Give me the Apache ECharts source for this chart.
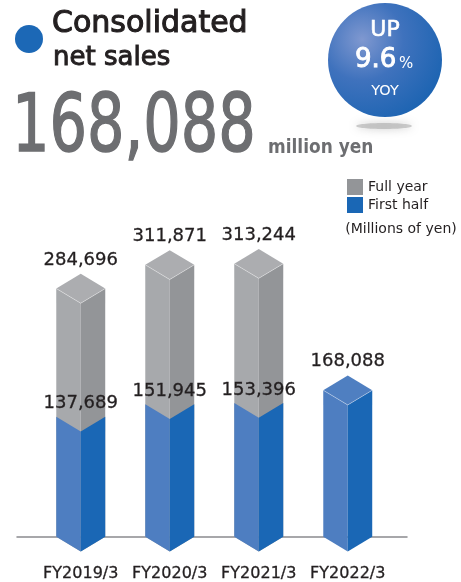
<!DOCTYPE html>
<html>
<head>
<meta charset="utf-8">
<script src="https://cdn.jsdelivr.net/npm/echarts@6/dist/echarts.min.js"></script>
<style>
html,body{margin:0;padding:0;background:#fff;}
#chart{width:461px;height:582px;}
</style>
</head>
<body>
<div id="chart"></div>
<script>
const categories = ['FY2019/3', 'FY2020/3', 'FY2021/3', 'FY2022/3'];
const fullYear = [284696, 311871, 313244, null];
const firstHalf = [137689, 151945, 153396, 168088];
const seriesNames = ['Full year', 'First half'];
const headlineValue = '168,088';
const headlineUnit = 'million yen';
const yoyText = '9.6';
const unitNote = '(Millions of yen)';

const FONT = '"DejaVu Sans", sans-serif';
const DARK = '#231f20';
const GRAY_L = '#a7a9ac', GRAY_R = '#939598', GRAY_T = '#acadb0';
const BLUE_L = '#4e7ec1', BLUE_R = '#1a67b5', BLUE_T = '#4f7fc1';

function fmt(v) { return Number(v).toLocaleString('en-US'); }

function cuboid(api, idx, v, colors, withTop) {
  const top = api.coord([idx, v]);
  const base = api.coord([idx, 0]);
  const hw = api.size([1, 0])[0] * 0.275;
  const d = hw * 0.6;
  const x = top[0], yT = top[1], yB = base[1];
  const children = [
    { type: 'polygon', shape: { points: [[x - hw, yT], [x, yT + d], [x, yB + d], [x - hw, yB]] }, style: { fill: colors[0] } },
    { type: 'polygon', shape: { points: [[x, yT + d], [x + hw, yT], [x + hw, yB], [x, yB + d]] }, style: { fill: colors[1] } }
  ];
  if (withTop) {
    children.push({ type: 'polygon', shape: { points: [[x - hw, yT], [x, yT - d], [x + hw, yT], [x, yT + d]] }, style: { fill: colors[2] } });
    children.push({ type: 'polyline', shape: { points: [[x - hw, yT], [x, yT + d], [x + hw, yT]] }, style: { stroke: 'rgba(255,255,255,0.45)', lineWidth: 0.8, fill: null } });
  }
  children.push({
    type: 'text',
    style: { text: fmt(v), x: x, y: withTop ? yT - d - 14 : yT - 13, align: 'center', verticalAlign: 'middle',
             font: '18px ' + FONT, fill: DARK, stroke: DARK, lineWidth: 0.3 }
  });
  return { type: 'group', children: children };
}

const chart = echarts.init(document.getElementById('chart'), null, { renderer: 'canvas' });
const option = {
  animation: false,
  backgroundColor: '#fff',
  grid: [
    { left: 36.25, right: 68.75, top: 188, bottom: 45 },
    { left: 17, right: 54, top: 188, bottom: 45 }
  ],
  legend: {
    data: seriesNames,
    orient: 'vertical',
    left: 347, top: 179,
    itemWidth: 16, itemHeight: 16, itemGap: 2,
    icon: 'rect',
    padding: 0,
    textStyle: { fontFamily: FONT, fontSize: 14, color: DARK }
  },
  xAxis: [
    { type: 'category', data: categories, gridIndex: 0,
      axisLine: { show: false }, axisTick: { show: false },
      axisLabel: { interval: 0, fontFamily: FONT, fontSize: 16, color: DARK, margin: 29, lineHeight: 16,
                   textBorderColor: DARK, textBorderWidth: 0.3 } },
    { type: 'value', gridIndex: 1, min: 0, max: 1,
      axisLine: { show: true, lineStyle: { color: '#8a8b8e', width: 1.5 } },
      axisTick: { show: false }, axisLabel: { show: false }, splitLine: { show: false } }
  ],
  yAxis: [
    { type: 'value', min: 0, max: 400000, show: false, gridIndex: 0 },
    { type: 'value', min: 0, max: 1, show: false, gridIndex: 1 }
  ],
  series: [
    { name: seriesNames[0], type: 'custom', xAxisIndex: 0, yAxisIndex: 0,
      itemStyle: { color: GRAY_R },
      data: fullYear.map((v, i) => [i, v == null ? '-' : v]),
      renderItem: function (params, api) {
        const v = api.value(1);
        if (v == null || isNaN(v)) return null;
        return cuboid(api, api.value(0), v, [GRAY_L, GRAY_R, GRAY_T], true);
      } },
    { name: seriesNames[1], type: 'custom', xAxisIndex: 0, yAxisIndex: 0,
      itemStyle: { color: BLUE_R },
      data: firstHalf.map((v, i) => [i, v]),
      renderItem: function (params, api) {
        const idx = api.value(0);
        const hasFull = fullYear[params.dataIndex] != null;
        return cuboid(api, idx, api.value(1), [BLUE_L, BLUE_R, BLUE_T], !hasFull);
      } }
  ],
  graphic: [
    { type: 'circle', shape: { cx: 29, cy: 39, r: 14 }, style: { fill: '#1c68b6' } },
    { type: 'text', x: 52, y: 24, style: { text: 'Consolidated', font: '30px ' + FONT, fill: DARK, stroke: DARK, lineWidth: 1.1, align: 'left', verticalAlign: 'middle' } },
    { type: 'text', x: 53, y: 58, style: { text: 'net sales', font: '26px ' + FONT, fill: DARK, stroke: DARK, lineWidth: 1.0, align: 'left', verticalAlign: 'middle' } },
    { type: 'text', x: 12, y: 130, scaleX: 0.737, style: { text: headlineValue, font: '80px ' + FONT, fill: '#6d6e71', stroke: '#6d6e71', lineWidth: 1.5, align: 'left', verticalAlign: 'middle' } },
    { type: 'text', x: 268, y: 148, scaleX: 0.85, style: { text: headlineUnit, font: 'bold 20px ' + FONT, fill: '#6d6e71', align: 'left', verticalAlign: 'middle' } },
    { type: 'ellipse', shape: { cx: 384, cy: 126, rx: 28, ry: 3 }, style: { fill: 'rgba(150,150,150,0.45)', shadowBlur: 8, shadowColor: 'rgba(130,130,130,0.9)' } },
    { type: 'circle', shape: { cx: 385, cy: 60, r: 57 },
      style: { fill: { type: 'radial', x: 0.3, y: 0.32, r: 0.8, colorStops: [
        { offset: 0, color: '#7f98d0' }, { offset: 0.45, color: '#3f72bd' }, { offset: 1, color: '#1a63b1' } ] } } },
    { type: 'text', x: 385, y: 30, style: { text: 'UP', font: '22px ' + FONT, fill: '#fff', stroke: '#fff', lineWidth: 0.6, align: 'center', verticalAlign: 'middle' } },
    { type: 'text', x: 355, y: 60.5, style: { text: yoyText, font: '26px ' + FONT, fill: '#fff', stroke: '#fff', lineWidth: 0.9, align: 'left', verticalAlign: 'middle' } },
    { type: 'text', x: 399, y: 64, style: { text: '%', font: '15px ' + FONT, fill: '#fff', align: 'left', verticalAlign: 'middle' } },
    { type: 'text', x: 385, y: 91, style: { text: 'YOY', font: '14.5px ' + FONT, fill: '#fff', align: 'center', verticalAlign: 'middle' } },
    { type: 'text', x: 401, y: 229, style: { text: unitNote, font: '14px ' + FONT, fill: DARK, align: 'center', verticalAlign: 'middle' } }
  ]
};
chart.setOption(option);
</script>
</body>
</html>
